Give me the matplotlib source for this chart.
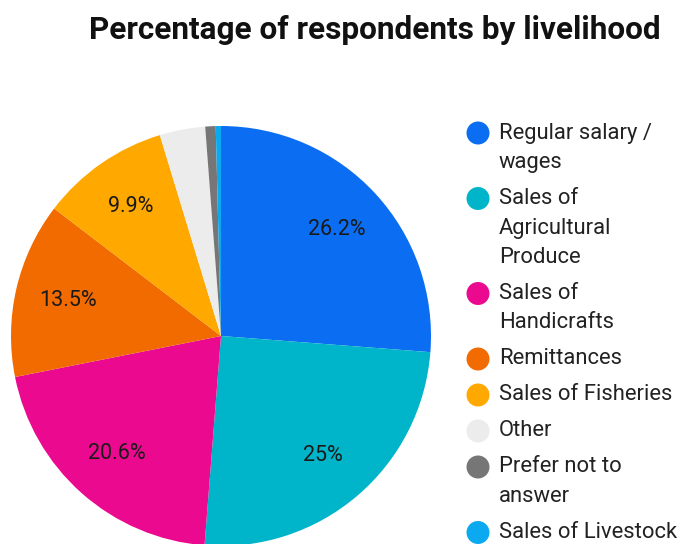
import math
import matplotlib
matplotlib.use("Agg")
import matplotlib.pyplot as plt
from matplotlib.patches import Ellipse

plt.rcParams['font.family'] = ['Roboto', 'DejaVu Sans']

categories = ["Regular salary /\nwages", "Sales of\nAgricultural\nProduce", "Sales of\nHandicrafts",
              "Remittances", "Sales of Fisheries", "Other", "Prefer not to\nanswer", "Sales of Livestock"]
values = [26.2, 25.0, 20.6, 13.5, 9.9, 3.5, 0.8, 0.4]
value_labels = ["26.2%", "25%", "20.6%", "13.5%", "9.9%", "", "", ""]
colors = ["#0b6ef2", "#00b5c9", "#eb0a8f", "#f26b00", "#ffa800", "#ececec", "#767676", "#0aa9f0"]

W, H = 683, 544
fig = plt.figure(figsize=(W / 100, H / 100), dpi=100)

# pie axes placed in pixel terms: centre (221, 336), radius 210
cx, cy, r = 221, 336, 210
ax = fig.add_axes([(cx - r) / W, (H - cy - r) / H, 2 * r / W, 2 * r / H])
wedges, _ = ax.pie(values, colors=colors, startangle=90, counterclock=False,
                   wedgeprops=dict(linewidth=0))
total = sum(values)
acc = 0.0
for v, lab in zip(values, value_labels):
    mid = (acc + v / 2) / total * 360
    acc += v
    if not lab:
        continue
    ang = math.radians(90 - mid)
    ax.text(0.75 * math.cos(ang), 0.75 * math.sin(ang), lab, ha='center', va='center',
            fontsize=15.5, color='#1a1a1a')
ax.set_xlim(-1, 1)
ax.set_ylim(-1, 1)
ax.set_aspect('equal')
for w in wedges:
    w.set_clip_on(False)

fig.text(375 / W, 1 - 30 / H, "Percentage of respondents by livelihood", ha='center', va='center',
         fontsize=22.7, fontweight='bold', color='#111111')

# legend drawn item by item
line_h = 29.5
y = 133
for name, col in zip(categories, colors):
    fig.patches.append(Ellipse((478 / W, 1 - y / H), 23 / W, 23 / H, transform=fig.transFigure,
                               facecolor=col, edgecolor='none'))
    lines = name.split("\n")
    for i, ln in enumerate(lines):
        fig.text(499 / W, 1 - (y + i * line_h) / H, ln, ha='left', va='center',
                 fontsize=15.8, color='#222222')
    y += (len(lines) - 1) * line_h + 36

fig.savefig("out.png", dpi=100)
